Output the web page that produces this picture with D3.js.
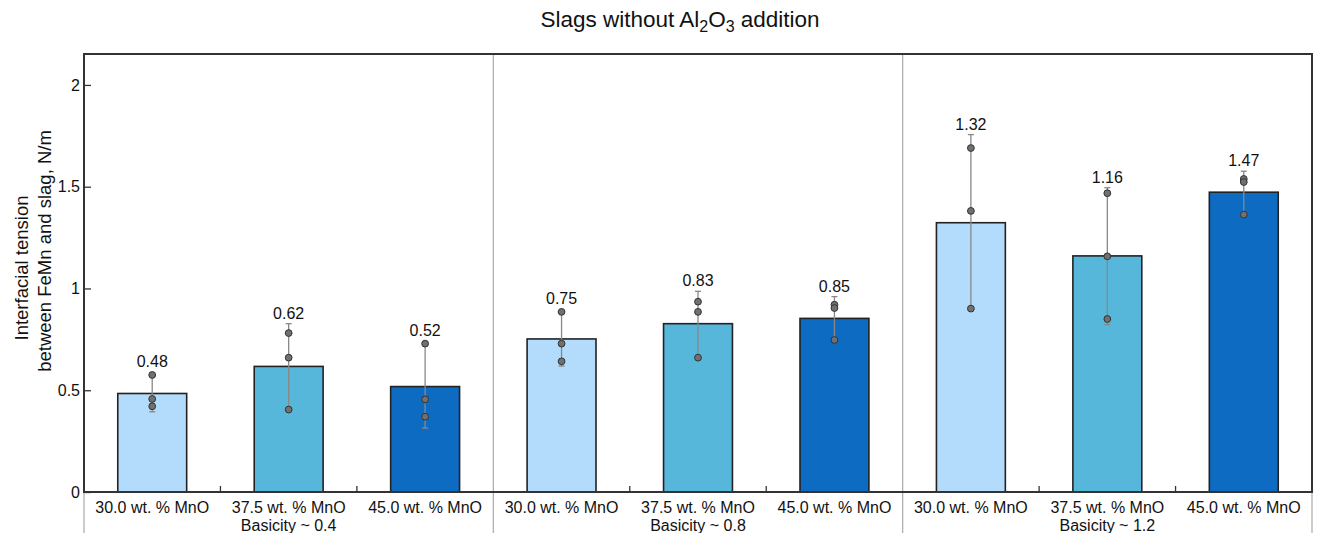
<!DOCTYPE html>
<html lang="en">

<head>
  <meta charset="UTF-8">
  <title>Slags without Al2O3 addition</title>
  <style>
    body { margin: 0; background: #fff; }
    text { font-family: "Liberation Sans", Arial, sans-serif; fill: #111; }
  </style>
</head>

<body>

  <script src="https://cdn.jsdelivr.net/npm/d3@7/dist/d3.min.js"></script>
  <script>

    let width = 1317
    let height = 533
    let margin = { top: 54, right: 5, bottom: 41, left: 84 }

    // data
    let groups = ['Basicity ~ 0.4', 'Basicity ~ 0.8', 'Basicity ~ 1.2']
    let mnoLevels = ['30.0 wt. % MnO', '37.5 wt. % MnO', '45.0 wt. % MnO']
    let means = [
      [0.484, 0.617, 0.518],
      [0.752, 0.827, 0.853],
      [1.323, 1.160, 1.473]
    ]
    let samples = [
      [[0.575, 0.457, 0.421], [0.781, 0.660, 0.405], [0.729, 0.455, 0.370]],
      [[0.885, 0.729, 0.642], [0.935, 0.885, 0.660], [0.920, 0.904, 0.747]],
      [[1.690, 1.381, 0.901], [1.468, 1.158, 0.850], [1.538, 1.523, 1.363]]
    ]
    let errLow = [
      [0.394, 0.405, 0.314],
      [0.619, 0.660, 0.747],
      [0.901, 0.822, 1.363]
    ]
    let errHigh = [
      [0.575, 0.827, 0.729],
      [0.885, 0.986, 0.960],
      [1.756, 1.495, 1.576]
    ]
    let yTicks = [0, 0.5, 1, 1.5, 2]
    let colors = ['#b3dcfc', '#57b7db', '#0e6bc2']

    let plotW = width - margin.left - margin.right
    let plotH = height - margin.top - margin.bottom

    let x0 = d3.scaleBand().domain(groups).range([margin.left, margin.left + plotW])
    let x1 = d3.scaleBand().domain(mnoLevels).range([0, x0.bandwidth()])
    let y = d3.scaleLinear().domain([0, 2.152]).range([margin.top + plotH, margin.top])
    let barW = x1.bandwidth() * 0.505

    // flatten to one record per bar
    let bars = []
    groups.forEach((g, gi) => {
      mnoLevels.forEach((m, mi) => {
        bars.push({ g, m, mi, mean: means[gi][mi], pts: samples[gi][mi], lo: errLow[gi][mi], hi: errHigh[gi][mi] })
      })
    })
    let cx = d => x0(d.g) + x1(d.m) + x1.bandwidth() / 2

    let svg = d3.select('body').append('svg')
      .attr('width', width)
      .attr('height', height)

    // title
    let title = svg.append('text')
      .attr('x', 680).attr('y', 27)
      .attr('text-anchor', 'middle')
      .style('font-size', '22.5px')
    title.append('tspan').text('Slags without Al')
    title.append('tspan').attr('dy', 5).style('font-size', '16px').text('2')
    title.append('tspan').attr('dy', -5).text('O')
    title.append('tspan').attr('dy', 5).style('font-size', '16px').text('3')
    title.append('tspan').attr('dy', -5).text(' addition')

    // group separators (run down through label area)
    svg.selectAll('.sep')
      .data(groups.concat(['end']))
      .enter()
      .append('line')
      .attr('x1', (d, i) => i < groups.length ? x0(d) : margin.left + plotW)
      .attr('x2', (d, i) => i < groups.length ? x0(d) : margin.left + plotW)
      .attr('y1', margin.top)
      .attr('y2', height)
      .attr('stroke', '#aaa')
      .attr('stroke-width', 1.2)

    // bars
    svg.selectAll('.bar')
      .data(bars)
      .enter()
      .append('rect')
      .attr('x', d => cx(d) - barW / 2)
      .attr('y', d => y(d.mean))
      .attr('width', barW)
      .attr('height', d => y(0) - y(d.mean))
      .attr('fill', d => colors[d.mi])
      .attr('stroke', '#222')
      .attr('stroke-width', 1.6)

    // whiskers
    let err = svg.selectAll('.err')
      .data(bars)
      .enter()
      .append('g')
    err.append('line')
      .attr('x1', cx).attr('x2', cx)
      .attr('y1', d => y(d.lo)).attr('y2', d => y(d.hi))
      .attr('stroke', '#888').attr('stroke-width', 1.3)
    err.append('line')
      .attr('x1', d => cx(d) - 3).attr('x2', d => cx(d) + 3)
      .attr('y1', d => y(d.lo)).attr('y2', d => y(d.lo))
      .attr('stroke', '#888').attr('stroke-width', 1.3)
    err.append('line')
      .attr('x1', d => cx(d) - 3).attr('x2', d => cx(d) + 3)
      .attr('y1', d => y(d.hi)).attr('y2', d => y(d.hi))
      .attr('stroke', '#888').attr('stroke-width', 1.3)

    // individual measurements
    err.selectAll('circle')
      .data(d => d.pts.map(v => ({ v, x: cx(d) })))
      .enter()
      .append('circle')
      .attr('cx', d => d.x)
      .attr('cy', d => y(d.v))
      .attr('r', 3.4)
      .attr('fill', '#707070')
      .attr('stroke', '#333')
      .attr('stroke-width', 1)

    // value labels
    svg.selectAll('.val')
      .data(bars)
      .enter()
      .append('text')
      .attr('x', cx)
      .attr('y', d => Math.min(y(d.hi), y(d3.max(d.pts)) - 3) - 5)
      .attr('text-anchor', 'middle')
      .style('font-size', '16px')
      .text(d => d3.format('.2f')(d.mean))

    // frame
    svg.append('rect')
      .attr('x', margin.left).attr('y', margin.top)
      .attr('width', plotW).attr('height', plotH)
      .attr('fill', 'none')
      .attr('stroke', '#333')
      .attr('stroke-width', 2)

    // y axis
    let yAxis = svg.append('g')
      .attr('transform', `translate(${margin.left},0)`)
      .call(d3.axisRight(y).tickValues(yTicks).tickSize(7).tickFormat(d3.format('~g')))
    yAxis.select('.domain').remove()
    yAxis.selectAll('line').attr('stroke', '#333').attr('stroke-width', 1.3)
    yAxis.selectAll('text')
      .attr('x', -4)
      .attr('text-anchor', 'end')
      .style('font-size', '16px')
      .style('font-family', '"Liberation Sans", Arial, sans-serif')
      .attr('fill', '#111')

    // small ticks between bars inside each group
    let inner = []
    groups.forEach(g => mnoLevels.slice(1).forEach(m => inner.push(x0(g) + x1(m))))
    svg.selectAll('.minor')
      .data(inner)
      .enter()
      .append('line')
      .attr('x1', d => d).attr('x2', d => d)
      .attr('y1', y(0)).attr('y2', y(0) - 6)
      .attr('stroke', '#333').attr('stroke-width', 1.3)

    // x labels
    svg.selectAll('.xlab')
      .data(bars)
      .enter()
      .append('text')
      .attr('x', cx)
      .attr('y', y(0) + 21)
      .attr('text-anchor', 'middle')
      .style('font-size', '16px')
      .text(d => d.m)

    svg.selectAll('.glab')
      .data(groups)
      .enter()
      .append('text')
      .attr('x', d => x0(d) + x0.bandwidth() / 2)
      .attr('y', y(0) + 39)
      .attr('text-anchor', 'middle')
      .style('font-size', '16px')
      .text(d => d)

    // y title
    svg.append('text')
      .attr('transform', 'translate(28,268) rotate(-90)')
      .attr('text-anchor', 'middle')
      .style('font-size', '18.5px')
      .text('Interfacial tension')
    svg.append('text')
      .attr('transform', 'translate(51,251) rotate(-90)')
      .attr('text-anchor', 'middle')
      .style('font-size', '18.5px')
      .text('between FeMn and slag, N/m')
  </script>
</body>

</html>
